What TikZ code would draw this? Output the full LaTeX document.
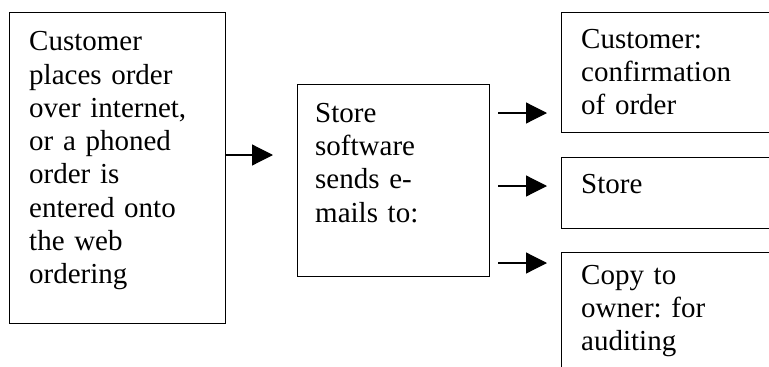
\documentclass[tikz,border=0pt]{standalone}
\usepackage{fontspec}
\setmainfont{Liberation Serif}
\usetikzlibrary{arrows.meta}
\begin{document}
\begin{tikzpicture}[x=1pt,y=-1pt,
  box/.style={draw,line width=1.2pt,inner sep=0pt,anchor=north west},
  txt/.style={anchor=base west,inner sep=0pt,text width=220pt,align=left,
    font=\fontsize{29}{33.3}\selectfont\frenchspacing},
  flow/.style={line width=1.2pt,-{Triangle[length=21pt,width=21pt]}}]
\useasboundingbox (0,0) rectangle (769,367);

% boxes
\node[box,minimum width=216pt,minimum height=311pt] (order) at (9,12) {};
\node[box,minimum width=192pt,minimum height=192pt] (send) at (297,84) {};
\node[box,minimum width=240pt,minimum height=120pt] (conf) at (561,12) {};
\node[box,minimum width=240pt,minimum height=71pt] (store) at (561,157) {};
\node[box,minimum width=240pt,minimum height=150pt] (copy) at (561,252) {};

% texts
\node[txt] (ordertxt) at (29,50.7) {Customer\\places order\\over internet,\\or a phoned\\order is\\entered onto\\the web\\ordering};
\node[txt] (sendtxt) at (315,122.3) {Store\\software\\sends e-\\mails to:};
\node[txt] (conftxt) at (581,48.3) {Customer:\\confirmation\\of order};
\node[txt] (storetxt) at (581,193.3) {Store};
\node[txt] (copytxt) at (581,284) {Copy to\\owner: for\\auditing};

% connectors
\coordinate (t0) at (273,155);
\coordinate (s1) at (498,113);
\coordinate (t1) at (547,113);
\coordinate (s2) at (498,186);
\coordinate (t2) at (547,186);
\coordinate (s3) at (498,263);
\coordinate (t3) at (547,263);
\draw[flow] (order.east |- t0) -- (t0);
\draw[flow] (s1) -- (t1);
\draw[flow] (s2) -- (t2);
\draw[flow] (s3) -- (t3);
\end{tikzpicture}
\end{document}
